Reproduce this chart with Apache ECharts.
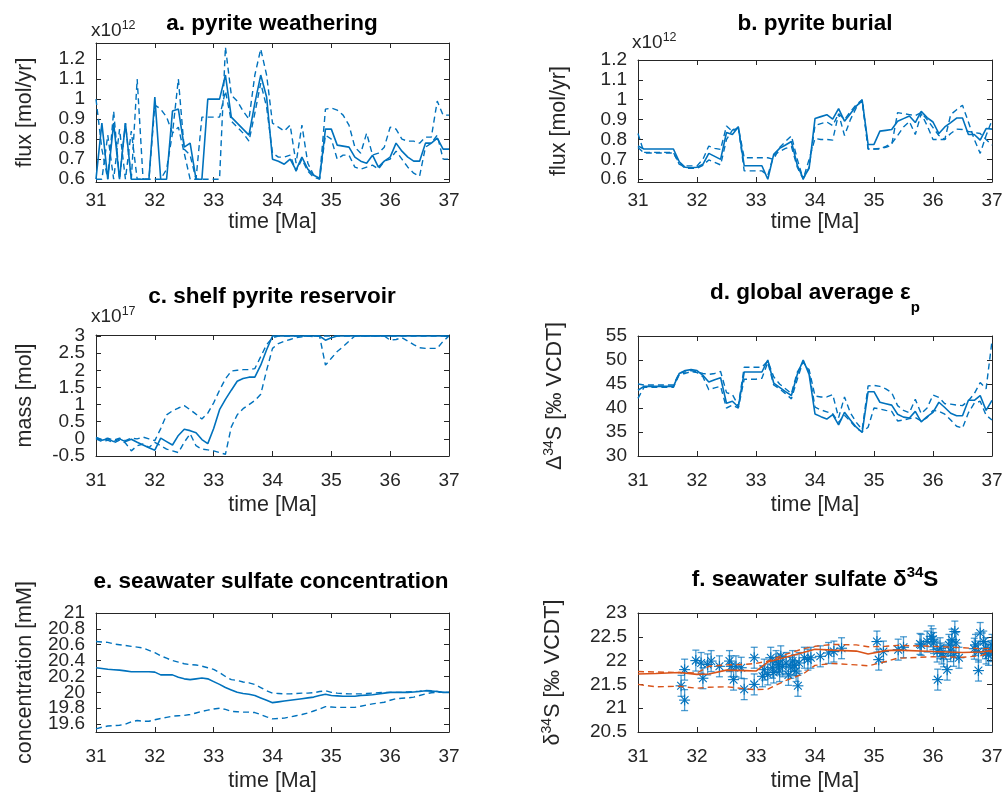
<!DOCTYPE html>
<html>
<head>
<meta charset="utf-8">
<title>pyrite model</title>
<script src="https://cdn.jsdelivr.net/npm/echarts@6/dist/echarts.min.js"></script>
<style>
  html, body { margin: 0; padding: 0; background: #fff; }
  #main { width: 1005px; height: 795px; }
</style>
</head>
<body>
<div id="main"></div>
<script>
// 时间轴 (Ma), 0.1 Myr 步长
const timeMa = [
  31.0,31.1,31.2,31.3,31.4,31.5,31.6,31.7,31.8,31.9,
  32.0,32.1,32.2,32.3,32.4,32.5,32.6,32.7,32.8,32.9,
  33.0,33.1,33.2,33.3,33.4,33.5,33.6,33.7,33.8,33.9,
  34.0,34.1,34.2,34.3,34.4,34.5,34.6,34.7,34.8,34.9,
  35.0,35.1,35.2,35.3,35.4,35.5,35.6,35.7,35.8,35.9,
  36.0,36.1,36.2,36.3,36.4,36.5,36.6,36.7,36.8,36.9,
  37.0
];

// a. pyrite weathering (x10^12 mol/yr)
const weatherMid = [
  0.60,0.88,0.60,0.88,0.60,0.88,0.60,0.60,0.60,0.60,
  1.01,0.60,0.60,0.94,0.95,0.76,0.78,0.60,0.60,1.00,
  1.00,1.00,1.12,0.91,0.88,0.85,0.82,0.98,1.12,1.01,
  0.70,0.69,0.675,0.70,0.645,0.71,0.65,0.62,0.605,0.85,
  0.85,0.77,0.765,0.76,0.71,0.69,0.68,0.72,0.66,0.69,
  0.71,0.78,0.74,0.71,0.69,0.69,0.78,0.78,0.805,0.75,
  0.75
];
const weatherHi = [
  1.00,0.75,0.60,0.94,0.60,0.88,0.60,1.10,0.60,0.60,
  0.97,0.95,0.91,0.83,1.10,0.75,0.72,0.60,0.60,0.60,
  0.60,0.60,1.26,1.02,0.99,0.94,0.90,1.12,1.25,1.12,
  0.88,0.86,0.84,0.87,0.68,0.87,0.68,0.62,0.60,0.95,
  0.955,0.945,0.92,0.87,0.76,0.73,0.83,0.72,0.73,0.76,
  0.86,0.85,0.80,0.79,0.79,0.78,0.81,0.81,0.99,0.92,
  0.92
];
const weatherLo = [
  0.60,0.60,0.82,0.60,0.85,0.60,0.84,0.60,0.60,0.60,
  0.60,0.60,0.65,0.83,0.86,0.73,0.60,0.60,0.91,0.91,
  0.91,0.91,1.04,0.89,0.86,0.83,0.79,0.93,1.08,0.96,
  0.73,0.71,0.71,0.72,0.64,0.70,0.64,0.61,0.60,0.82,
  0.80,0.70,0.72,0.72,0.66,0.65,0.66,0.67,0.65,0.69,
  0.70,0.74,0.70,0.66,0.63,0.615,0.76,0.78,0.82,0.70,
  0.70
];

// b. pyrite burial (x10^12 mol/yr)
const burialMid = [
  0.768,0.752,0.752,0.752,0.752,0.752,0.752,0.688,0.66,0.658,
  0.66,0.675,0.73,0.715,0.70,0.835,0.825,0.863,0.668,0.668,
  0.668,0.668,0.60,0.725,0.755,0.772,0.79,0.67,0.605,0.655,
  0.905,0.915,0.925,0.902,0.955,0.892,0.93,0.968,0.997,0.775,
  0.775,0.842,0.846,0.85,0.892,0.905,0.918,0.885,0.942,0.91,
  0.888,0.83,0.863,0.885,0.908,0.908,0.825,0.825,0.797,0.855,
  0.852
];
const burialHi = [
  0.83,0.735,0.735,0.735,0.735,0.735,0.735,0.675,0.667,0.667,
  0.667,0.70,0.767,0.755,0.75,0.868,0.84,0.863,0.708,0.708,
  0.708,0.708,0.708,0.70,0.76,0.79,0.818,0.70,0.60,0.66,
  0.87,0.88,0.888,0.87,0.93,0.90,0.94,0.975,1.0,0.752,
  0.752,0.755,0.76,0.772,0.935,0.93,0.925,0.92,0.935,0.90,
  0.86,0.82,0.80,0.925,0.95,0.972,0.888,0.80,0.73,0.82,
  0.897
];
const burialLo = [
  0.76,0.732,0.732,0.732,0.732,0.732,0.732,0.68,0.655,0.655,
  0.655,0.67,0.697,0.685,0.672,0.80,0.847,0.863,0.642,0.642,
  0.642,0.642,0.62,0.72,0.74,0.755,0.765,0.66,0.60,0.70,
  0.805,0.80,0.80,0.797,0.93,0.82,0.90,0.96,1.0,0.752,
  0.752,0.752,0.765,0.78,0.82,0.863,0.89,0.825,0.93,0.87,
  0.80,0.80,0.80,0.83,0.852,0.85,0.84,0.835,0.83,0.80,
  0.772
];

// c. shelf pyrite reservoir (x10^17 mol)
const shelfMid = [
  0.04,-0.04,0.0,-0.08,0.0,-0.08,-0.01,-0.10,-0.18,-0.26,
  -0.33,0.02,-0.08,-0.18,0.10,0.28,0.24,0.18,-0.02,-0.14,
  0.30,0.85,1.15,1.42,1.68,1.76,1.80,1.80,2.15,2.60,
  3.0,3.0,3.0,3.0,3.0,3.0,3.0,3.0,3.0,2.88,
  2.95,3.0,3.0,3.0,3.0,3.0,3.0,3.0,3.0,3.0,
  3.0,3.0,3.0,3.0,3.0,3.0,3.0,3.0,3.0,3.0,
  3.0
];
const shelfHi = [
  0.04,-0.02,0.02,-0.04,0.02,-0.05,0.02,0.0,0.05,0.0,
  -0.05,0.30,0.70,0.82,0.90,0.97,0.85,0.72,0.58,0.75,
  1.05,1.42,1.75,1.98,2.00,2.02,2.02,2.05,2.40,2.75,
  2.95,3.0,3.0,3.0,3.0,3.0,3.0,3.0,3.0,3.0,
  3.0,3.0,3.0,3.0,3.0,3.0,3.0,3.0,3.0,3.0,
  2.88,2.90,2.95,2.85,2.75,2.66,2.64,2.64,2.64,2.85,
  3.0
];
const shelfLo = [
  0.0,-0.08,-0.04,-0.12,-0.04,-0.12,-0.35,-0.20,-0.15,-0.25,
  -0.10,-0.20,-0.30,-0.35,-0.40,-0.10,0.15,-0.20,-0.30,-0.32,
  -0.35,-0.40,-0.45,0.35,0.70,0.88,1.00,1.12,1.30,2.00,
  2.64,2.78,2.85,2.90,2.95,2.98,3.0,2.98,3.0,2.15,
  2.35,2.55,2.69,2.85,3.0,3.0,3.0,3.0,3.0,3.0,
  3.0,3.0,3.0,3.0,3.0,3.0,3.0,3.0,3.0,3.0,
  3.0
];

// d. global average epsilon_p (permil)
const epsMid = [
  43.7,44.5,44.5,44.5,44.5,44.5,44.5,47.2,47.8,48.0,
  47.8,46.8,45.4,45.9,46.3,41.0,41.4,40.2,47.5,47.5,
  47.5,47.5,50.0,45.2,44.3,43.4,42.6,47.0,50.0,47.0,
  38.75,38.2,37.7,38.6,36.5,39.1,37.5,36.0,34.9,43.4,
  43.4,41.2,40.9,40.6,38.7,38.1,37.9,39.3,37.1,38.2,
  39.1,41.2,40.1,38.9,38.4,38.4,41.6,41.6,42.6,39.5,
  41.6
];
const epsHi = [
  45.0,44.8,44.8,44.8,44.8,44.8,44.8,47.3,47.5,47.8,
  47.5,47.2,47.0,47.2,47.6,43.2,42.8,40.5,48.5,48.5,
  48.5,48.5,49.8,46.5,45.0,44.0,43.0,47.5,49.5,48.0,
  42.5,42.3,42.3,42.8,38.0,42.3,39.0,37.0,35.5,44.6,
  44.7,44.5,44.0,43.2,40.5,39.5,39.0,41.8,38.8,40.0,
  42.7,42.2,40.9,40.8,40.6,40.5,41.5,43.0,45.3,44.0,
  54.0
];
const epsLo = [
  42.0,44.3,44.3,44.3,44.3,44.3,44.3,47.0,47.2,47.6,
  47.4,46.5,43.8,44.2,44.5,40.0,40.6,40.0,46.0,46.0,
  46.0,46.2,49.5,44.8,44.0,43.0,41.9,46.0,49.8,47.5,
  40.2,39.6,39.2,38.8,37.0,38.5,37.2,35.8,35.0,36.0,
  40.0,39.8,39.5,39.3,37.3,37.5,37.8,38.0,37.3,38.0,
  39.5,39.3,38.7,37.5,36.2,35.8,39.0,41.0,41.4,38.5,
  37.5
];

// e. seawater sulfate concentration (mM)
const sulfateMid = [
  20.31,20.30,20.29,20.285,20.28,20.27,20.26,20.26,20.26,20.26,
  20.255,20.22,20.22,20.22,20.19,20.17,20.16,20.17,20.18,20.17,
  20.135,20.10,20.06,20.03,20.00,19.985,19.975,19.96,19.93,19.90,
  19.87,19.88,19.89,19.90,19.91,19.92,19.93,19.94,19.96,19.975,
  19.96,19.955,19.95,19.95,19.95,19.96,19.965,19.97,19.98,19.99,
  20.0,20.0,20.0,20.0,20.005,20.01,20.02,20.015,20.01,20.0,
  20.0
];
const sulfateHi = [
  20.64,20.635,20.63,20.61,20.60,20.59,20.58,20.57,20.56,20.53,
  20.50,20.46,20.43,20.40,20.38,20.36,20.35,20.345,20.33,20.31,
  20.29,20.25,20.20,20.16,20.15,20.13,20.12,20.10,20.06,20.02,
  19.99,19.985,19.98,19.98,19.985,19.99,19.99,19.995,20.01,20.02,
  20.0,19.99,19.985,19.98,19.98,19.98,19.985,19.99,19.995,20.0,
  20.0,20.0,20.0,20.005,20.01,20.015,20.025,20.02,20.01,20.0,
  20.0
];
const sulfateLo = [
  19.54,19.56,19.575,19.58,19.585,19.60,19.63,19.645,19.635,19.635,
  19.655,19.67,19.685,19.70,19.705,19.71,19.72,19.74,19.76,19.775,
  19.79,19.80,19.785,19.76,19.755,19.75,19.75,19.745,19.72,19.69,
  19.665,19.67,19.675,19.69,19.705,19.72,19.74,19.765,19.79,19.82,
  19.815,19.81,19.81,19.81,19.81,19.825,19.84,19.855,19.865,19.875,
  19.90,19.92,19.925,19.93,19.94,19.96,19.98,19.995,20.0,20.0,
  20.0
];

// f. seawater sulfate d34S: 模型 (橙色) + 数据点 (蓝色星号)
const modelTime = [31.0,31.3,31.7,32.0,32.2,32.5,32.8,33.0,33.2,33.5,33.8,34.0,34.3,34.7,34.9,35.2,35.4,36.0,36.5,36.8,37.0];
const modelMid  = [21.72,21.73,21.75,21.71,21.72,21.80,21.79,21.78,21.97,22.07,22.17,22.24,22.22,22.20,22.14,22.21,22.22,22.19,22.17,22.18,22.21];
const modelHi   = [21.77,21.76,21.75,21.74,21.88,21.91,21.92,21.94,21.99,22.13,22.25,22.30,22.34,22.33,22.29,22.30,22.32,22.30,22.27,22.25,22.26];
const modelLo   = [21.50,21.45,21.46,21.42,21.44,21.45,21.41,21.39,21.40,21.58,21.72,21.90,21.94,21.91,21.89,21.98,22.05,22.08,22.07,22.10,22.19];

const sampleTime = [
  31.73,31.79,31.79,31.98,32.07,32.10,32.18,32.24,32.38,32.55,
  32.58,32.62,32.66,32.75,32.80,32.97,32.97,33.11,33.14,33.20,
  33.25,33.28,33.30,33.34,33.38,33.40,33.42,33.45,33.51,33.55,
  33.59,33.62,33.65,33.68,33.71,33.73,33.82,33.88,33.93,34.09,
  34.23,34.32,34.45,35.05,35.08,35.16,35.41,35.50,35.78,35.80,
  35.90,35.97,36.00,36.01,36.07,36.08,36.12,36.15,36.18,36.24,
  36.27,36.30,36.32,36.35,36.37,36.39,36.44,36.70,36.72,36.77,
  36.77,36.80,36.86,36.89,36.90,36.94,36.98,37.00
];
const sampleD34S = [
  21.47,21.81,21.17,22.00,21.95,21.63,21.92,21.99,21.88,21.99,
  21.88,21.60,21.88,21.85,21.40,22.06,21.50,21.67,21.81,21.71,
  22.06,21.85,21.75,21.99,21.92,21.78,22.09,21.88,21.95,21.70,
  21.85,21.99,21.90,21.78,21.47,21.95,22.06,22.02,22.06,22.09,
  22.16,22.19,22.26,22.40,22.02,22.19,22.23,22.28,22.35,22.33,
  22.40,22.51,22.45,22.37,22.19,21.60,22.26,22.15,22.09,21.81,
  22.33,22.20,22.44,22.10,22.61,22.37,22.06,22.25,22.33,22.19,
  21.79,22.58,22.40,22.26,22.15,22.12,22.20,22.33
];
const sampleErr = 0.22;

const FONT = 'Liberation Sans, Arial, Helvetica, sans-serif';
const INK = '#262626';
const BLUE = '#0072BD';
const ORANGE = '#D95319';

function pairs(xs, ys) { return xs.map((x, i) => [x, ys[i]]); }
function fmt(v) { return String(Math.round(v * 10) / 10); }

// 6 个子图的布局 (像素)
const panels = [
  { grid: { left: 96,  top: 43,  width: 353, height: 139 }, ymin: 0.586, ymax: 1.28,
    yticks: [0.6,0.7,0.8,0.9,1.0,1.1,1.2], yname: 'flux [mol/yr]', yGap: 60 },
  { grid: { left: 638, top: 60,  width: 354, height: 122 }, ymin: 0.586, ymax: 1.2,
    yticks: [0.6,0.7,0.8,0.9,1.0,1.1,1.2], yname: 'flux [mol/yr]', yGap: 68 },
  { grid: { left: 96,  top: 335, width: 353, height: 121 }, ymin: -0.5, ymax: 3.03,
    yticks: [-0.5,0,0.5,1,1.5,2,2.5,3], yname: 'mass [mol]', yGap: 60 },
  { grid: { left: 638, top: 336, width: 354, height: 120 }, ymin: 30, ymax: 55,
    yticks: [30,35,40,45,50,55], yname: '{n|Δ}{s|34}{n|S [‰ VCDT]}', yGap: 70 },
  { grid: { left: 96,  top: 613, width: 353, height: 119 }, ymin: 19.5, ymax: 21,
    yticks: [19.6,19.8,20,20.2,20.4,20.6,20.8,21], yname: 'concentration [mM]', yGap: 60 },
  { grid: { left: 638, top: 613, width: 354, height: 119 }, ymin: 20.5, ymax: 23,
    yticks: [20.5,21,21.5,22,22.5,23], yname: '{n|δ}{s|34}{n|S [‰ VCDT]}', yGap: 72 }
];

const nameRich = {
  n: { fontSize: 21.5, fontFamily: FONT, color: INK, lineHeight: 26 },
  s: { fontSize: 14, fontFamily: FONT, color: INK, lineHeight: 12, verticalAlign: 'top' }
};
const tickFont = { fontSize: 19, fontFamily: FONT, color: INK };

const grids = [], xAxes = [], yAxes = [];
panels.forEach((p, i) => {
  grids.push(Object.assign({ containLabel: false, outerBoundsMode: 'none', show: false }, p.grid));
  const row = Math.floor(i / 2);
  const common = { min: 31, max: 37, interval: 1, gridIndex: i, splitLine: { show: false },
    axisLine: { onZero: false, lineStyle: { color: INK, width: 1 } },
    axisTick: { inside: true, length: 5, lineStyle: { color: INK } } };
  xAxes.push(Object.assign({}, common, { type: 'value', position: 'bottom',
    name: 'time [Ma]', nameLocation: 'middle', nameGap: row === 0 ? 29 : 38,
    nameTextStyle: { fontSize: 21.5, fontFamily: FONT, color: INK },
    axisLabel: Object.assign({ margin: row === 0 ? 9 : 15, showMinLabel: true, showMaxLabel: true }, tickFont) }));
  xAxes.push(Object.assign({}, common, { type: 'value', position: 'top', axisLabel: { show: false } }));

  // 刻度标签拆成两根左轴 (奇/偶), 避免相邻标签被自动隐藏
  const evenTicks = p.yticks.filter((v, k) => k % 2 === 0);
  const oddTicks = p.yticks.filter((v, k) => k % 2 === 1);
  const ycommon = { type: 'value', min: p.ymin, max: p.ymax, gridIndex: i, splitLine: { show: false },
    axisLine: { show: true, onZero: false, lineStyle: { color: INK, width: 1 } } };
  yAxes.push(Object.assign({}, ycommon, { position: 'left',
    name: p.yname, nameLocation: 'middle', nameGap: p.yGap,
    nameTextStyle: { fontSize: 21.5, fontFamily: FONT, color: INK, rich: nameRich },
    axisTick: { inside: true, length: 5, customValues: p.yticks, lineStyle: { color: INK } },
    axisLabel: Object.assign({ margin: 11, customValues: evenTicks, formatter: fmt,
      showMinLabel: true, showMaxLabel: true }, tickFont) }));
  yAxes.push(Object.assign({}, ycommon, { position: 'left', axisLine: { show: false }, axisTick: { show: false },
    axisLabel: Object.assign({ margin: 11, customValues: oddTicks, formatter: fmt,
      showMinLabel: true, showMaxLabel: true }, tickFont) }));
  yAxes.push(Object.assign({}, ycommon, { position: 'right',
    axisTick: { inside: true, length: 5, customValues: p.yticks, lineStyle: { color: INK } },
    axisLabel: { show: false } }));
});

function band(i, mid, hi, lo, xs, color) {
  const base = { type: 'line', xAxisIndex: 2 * i, yAxisIndex: 3 * i, showSymbol: false,
    symbol: 'none', silent: true, animation: false };
  return [
    Object.assign({}, base, { data: pairs(xs, hi), lineStyle: { color: color, width: 1.4, type: [6, 4] } }),
    Object.assign({}, base, { data: pairs(xs, lo), lineStyle: { color: color, width: 1.4, type: [6, 4] } }),
    Object.assign({}, base, { data: pairs(xs, mid), lineStyle: { color: color, width: 1.6 }, z: 3 })
  ];
}

// 误差棒 + 星号
function renderSample(params, api) {
  const t = api.value(0), v = api.value(1);
  const c = api.coord([t, v]);
  const lo = api.coord([t, v - sampleErr]);
  const hi = api.coord([t, v + sampleErr]);
  const cap = 3.5, r = 5.5, d = r * 0.7071;
  const bar = { stroke: 'rgba(0,114,189,0.7)', lineWidth: 1.3 };
  const star = { stroke: BLUE, lineWidth: 1.1 };
  return { type: 'group', children: [
    { type: 'line', shape: { x1: c[0], y1: lo[1], x2: c[0], y2: hi[1] }, style: bar },
    { type: 'line', shape: { x1: c[0] - cap, y1: lo[1], x2: c[0] + cap, y2: lo[1] }, style: bar },
    { type: 'line', shape: { x1: c[0] - cap, y1: hi[1], x2: c[0] + cap, y2: hi[1] }, style: bar },
    { type: 'line', shape: { x1: c[0] - r, y1: c[1], x2: c[0] + r, y2: c[1] }, style: star },
    { type: 'line', shape: { x1: c[0], y1: c[1] - r, x2: c[0], y2: c[1] + r }, style: star },
    { type: 'line', shape: { x1: c[0] - d, y1: c[1] - d, x2: c[0] + d, y2: c[1] + d }, style: star },
    { type: 'line', shape: { x1: c[0] - d, y1: c[1] + d, x2: c[0] + d, y2: c[1] - d }, style: star }
  ] };
}

const series = [].concat(
  band(0, weatherMid, weatherHi, weatherLo, timeMa, BLUE),
  band(1, burialMid, burialHi, burialLo, timeMa, BLUE),
  band(2, shelfMid, shelfHi, shelfLo, timeMa, BLUE),
  band(3, epsMid, epsHi, epsLo, timeMa, BLUE),
  band(4, sulfateMid, sulfateHi, sulfateLo, timeMa, BLUE),
  [{ type: 'custom', xAxisIndex: 10, yAxisIndex: 15, renderItem: renderSample, clip: true,
     data: pairs(sampleTime, sampleD34S), encode: { x: 0, y: 1 }, silent: true, z: 1 }],
  band(5, modelMid, modelHi, modelLo, modelTime, ORANGE)
);

const titleRich = {
  t: { fontSize: 22.5, fontWeight: 'bold', fontFamily: FONT, color: '#000', lineHeight: 30 },
  td: { fontSize: 22.5, fontWeight: 'bold', fontFamily: FONT, color: '#000', lineHeight: 44 },
  sup: { fontSize: 15, fontWeight: 'bold', fontFamily: FONT, color: '#000', lineHeight: 16, verticalAlign: 'top' },
  sub: { fontSize: 15, fontWeight: 'bold', fontFamily: FONT, color: '#000', lineHeight: 2, verticalAlign: 'bottom' },
  m: { fontSize: 19, fontWeight: 'normal', fontFamily: FONT, color: INK, lineHeight: 24 },
  e: { fontSize: 12.5, fontWeight: 'normal', fontFamily: FONT, color: INK, lineHeight: 10, verticalAlign: 'top' }
};
function ttl(text, x, y, align) {
  return { text: text, left: x, top: y, textAlign: align || 'center', padding: 0,
    textStyle: { fontWeight: 'normal', rich: titleRich } };
}

const option = {
  animation: false,
  backgroundColor: '#fff',
  title: [
    ttl('{t|a. pyrite weathering}', 272, 9),
    ttl('{t|b. pyrite burial}', 815, 9),
    ttl('{t|c. shelf pyrite reservoir}', 272, 282),
    ttl('{td|d. global average ε}{sub|p}', 815, 271),
    ttl('{t|e. seawater sulfate concentration}', 271, 567),
    ttl('{t|f. seawater sulfate δ}{sup|34}{t|S}', 815, 565),
    ttl('{m|x10}{e|12}', 91, 19, 'left'),
    ttl('{m|x10}{e|12}', 632, 31, 'left'),
    ttl('{m|x10}{e|17}', 91, 305, 'left')
  ],
  grid: grids,
  xAxis: xAxes,
  yAxis: yAxes,
  series: series
};

const myChart = echarts.init(document.getElementById('main'), null, { renderer: 'canvas' });
myChart.setOption(option);
window.addEventListener('resize', function () { myChart.resize(); });
</script>
</body>
</html>
